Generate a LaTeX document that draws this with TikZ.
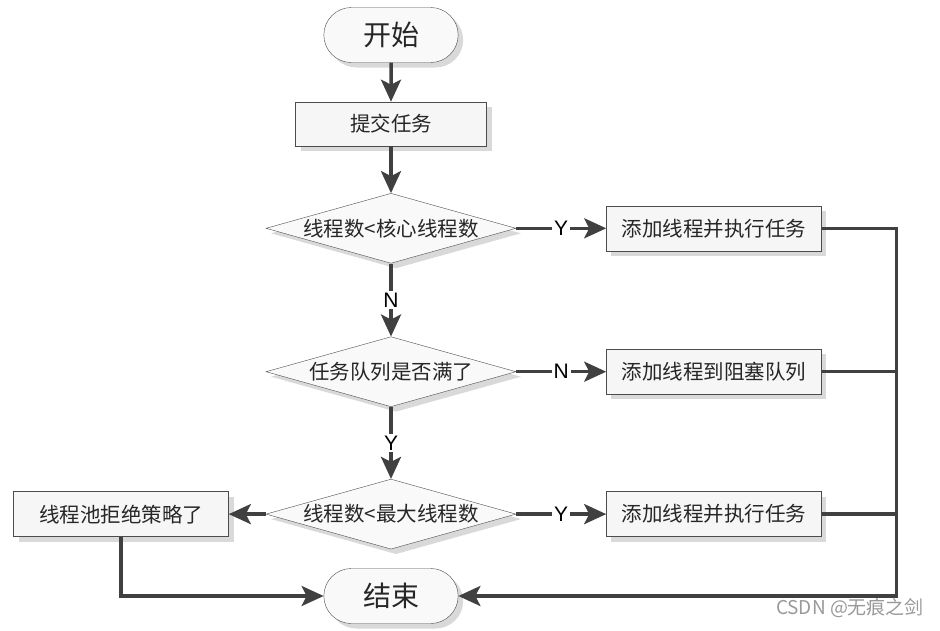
\documentclass[tikz,border=0pt]{standalone}
\usepackage{fontspec}
\setmainfont{Noto Sans CJK SC}
\newfontfamily\latinfont{Liberation Sans}
\usetikzlibrary{arrows.meta, positioning, shapes.geometric, shapes.misc, shadows}

\begin{document}
\begin{tikzpicture}[
  shade/.style={drop shadow={shadow xshift=5pt, shadow yshift=-5pt, fill=black!15, opacity=1}},
  terminal/.style={rounded rectangle, draw=black!70, fill=gray!5, text=black!85, shade,
    minimum width=141pt, minimum height=55pt, font=\fontsize{28}{28}\selectfont},
  stepbox/.style={rectangle, draw=black!70, fill=gray!7, text=black!85, shade,
    minimum width=215pt, minimum height=45pt, font=\fontsize{20.5}{20.5}\selectfont},
  decision/.style={diamond, draw=black!70, fill=gray!5, text=black!85, shade, aspect=3.6,
    inner sep=0pt, minimum width=250pt, minimum height=70pt, font=\fontsize{20.5}{20.5}\selectfont},
  arrow/.style={-{Stealth[length=22pt, width=20pt, inset=5pt]}, line width=3.5pt, draw=black!75},
  bus/.style={line width=3.5pt, draw=black!75},
  lab/.style={fill=white, inner sep=2pt, text=black, font=\latinfont\fontsize{21}{21}\selectfont},
]
  \useasboundingbox (0,0) rectangle (940pt,-630pt);

  \node[terminal] (start) at (391pt,-35pt) {开始};
  \node[stepbox, minimum width=191pt, minimum height=44pt, below=39pt of start] (submit) {提交任务};
  \node[decision, below=47pt of submit] (core) {线程数<核心线程数};
  \node[stepbox, right=90pt of core] (addcore) {添加线程并执行任务};
  \node[decision, below=73pt of core] (queue) {任务队列是否满了};
  \node[stepbox, right=90pt of queue] (addqueue) {添加线程到阻塞队列};
  \node[decision, below=72pt of queue] (max) {线程数<最大线程数};
  \node[stepbox, right=90pt of max] (addmax) {添加线程并执行任务};
  \node[stepbox, left=37pt of max] (reject) {线程池拒绝策略了};
  \node[terminal, below=19pt of max] (stop) {结束};

  \draw[arrow] (start) -- (submit);
  \draw[arrow] (submit) -- (core);
  \draw[arrow] (core) -- node[lab] {Y} (addcore);
  \draw[arrow] (core) -- node[lab] {N} (queue);
  \draw[arrow] (queue) -- node[lab] {N} (addqueue);
  \draw[arrow] (queue) -- node[lab] {Y} (max);
  \draw[arrow] (max) -- node[lab] {Y} (addmax);
  \draw[arrow] (max) -- (reject);

  % right side collector
  \coordinate[right=75pt of addcore.east] (busright);
  \draw[arrow] (addcore.east) -- (busright) |- (stop.east);
  \draw[bus] (addqueue.east) -- (addqueue.east -| busright);
  \draw[bus] (addmax.east) -- (addmax.east -| busright);
  \draw[arrow] (reject.south) |- (stop.west);

  \node[text=black!40, font=\fontsize{19}{19}\selectfont] (mark) at (850pt,-608pt) {CSDN @无痕之剑};
\end{tikzpicture}
\end{document}
